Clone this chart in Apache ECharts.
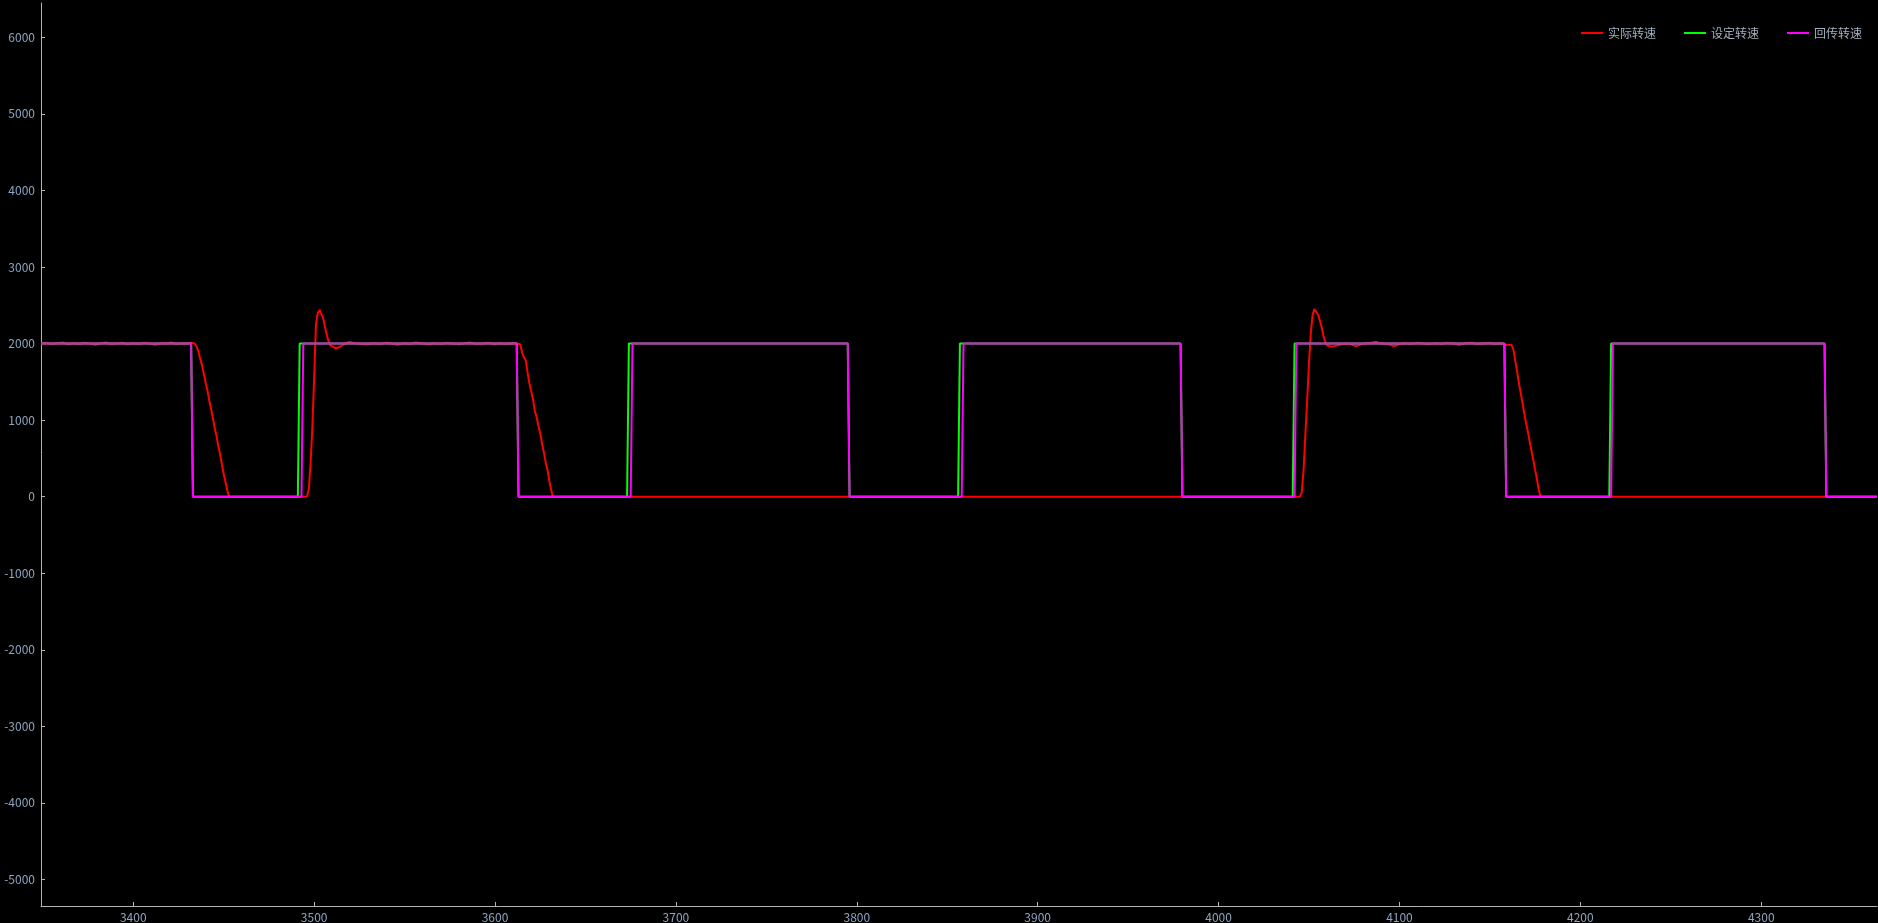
<!DOCTYPE html>
<html>
<head>
<meta charset="utf-8">
<title>转速曲线</title>
<script src="https://cdn.jsdelivr.net/npm/echarts@6/dist/echarts.min.js"></script>
<style>
  html, body { margin: 0; padding: 0; background: #000; }
  #speed_chart { width: 1878px; height: 923px; }
</style>
</head>
<body>
<div id="speed_chart"></div>
<script>
// legend names
var seriesNames = ['实际转速', '设定转速', '回传转速'];

// axis ticks
var xTicks = [3400, 3500, 3600, 3700, 3800, 3900, 4000, 4100, 4200, 4300];
var yTicks = [-5000, -4000, -3000, -2000, -1000, 0, 1000, 2000, 3000, 4000, 5000, 6000];

// actual speed [sample, rpm]
var actualSpeed = [
    [3349, 2000], [3352, 2010], [3355, 1995], [3358, 2005], [3361, 2015], [3364, 1990],
    [3367, 2005], [3370, 1995], [3373, 2010], [3376, 2000], [3379, 1985], [3382, 2005],
    [3385, 2015], [3388, 1995], [3391, 2000], [3394, 2010], [3397, 1990], [3400, 2005],
    [3403, 1995], [3406, 2010], [3409, 2000], [3412, 1985], [3415, 2005], [3418, 2000],
    [3421, 2015], [3424, 1995], [3427, 2005], [3430, 2000], [3432, 2010], [3434, 2000],
    [3435, 1960], [3436, 1900], [3437, 1800], [3438, 1720], [3439, 1610], [3440, 1490],
    [3441, 1390], [3442, 1260], [3443, 1150], [3444, 1030], [3445, 900], [3446, 800],
    [3447, 660], [3448, 560], [3449, 420], [3450, 300], [3451, 190], [3452, 80], [3453, 0],
    [3496, 0], [3497, 90], [3498, 420], [3499, 900], [3500, 1550], [3501, 2250],
    [3502, 2400], [3503, 2440], [3504, 2430], [3505, 2330], [3506, 2220], [3507, 2110],
    [3508, 2030], [3509, 1975], [3510, 1950], [3512, 1937], [3514, 1955], [3516, 1985],
    [3519, 2020], [3523, 2003], [3526, 1995], [3530, 1990], [3533, 2005], [3536, 1995],
    [3540, 2010], [3543, 2000], [3546, 1985], [3550, 2005], [3553, 1995], [3556, 2015],
    [3560, 2000], [3563, 1990], [3566, 2005], [3570, 1995], [3573, 2010], [3576, 2000],
    [3580, 1990], [3583, 2005], [3586, 2015], [3590, 1995], [3593, 2000], [3596, 2010],
    [3600, 1990], [3603, 2005], [3606, 1995], [3609, 2005], [3612, 2000], [3614, 1990],
    [3615, 1880], [3616, 1820], [3617, 1780], [3618, 1620], [3619, 1480], [3620, 1380],
    [3621, 1270], [3622, 1120], [3623, 1040], [3624, 920], [3625, 830], [3626, 690],
    [3627, 580], [3628, 450], [3629, 350], [3630, 210], [3631, 90], [3632, 0],
    [4045, 0], [4046, 60], [4047, 350], [4048, 820], [4049, 1270], [4050, 1760],
    [4051, 2140], [4052, 2380], [4053, 2450], [4054, 2430], [4055, 2380], [4056, 2300],
    [4057, 2210], [4058, 2100], [4059, 2020], [4060, 1975], [4061, 1950], [4063, 1960],
    [4064, 1967], [4067, 1984], [4070, 2000], [4073, 1990], [4076, 1967], [4079, 1995],
    [4082, 2005], [4085, 2015], [4087, 2023], [4090, 2000], [4094, 1990], [4097, 1967],
    [4100, 1995], [4103, 2005], [4106, 1995], [4110, 2010], [4113, 2000], [4116, 1990],
    [4120, 2005], [4123, 1995], [4126, 2010], [4130, 2000], [4133, 1985], [4136, 2005],
    [4140, 2010], [4143, 1995], [4146, 2000], [4150, 2010], [4153, 1995], [4156, 2005],
    [4159, 1985], [4162, 1980], [4163, 1920], [4164, 1780], [4165, 1640], [4166, 1490],
    [4167, 1360], [4168, 1230], [4169, 1090], [4170, 960], [4171, 850], [4172, 720],
    [4173, 600], [4174, 480], [4175, 350], [4176, 230], [4177, 90], [4178, 0],
    [4364, 0]
];

// set speed [sample, rpm]
var setSpeed = [
    [3349, 2000], [3432, 2000], [3433, 0], [3491, 0], [3492, 2000], [3612, 2000],
    [3613, 0], [3673, 0], [3674, 2000], [3795, 2000], [3796, 0], [3856, 0],
    [3857, 2000], [3979, 2000], [3980, 0], [4041, 0], [4042, 2000], [4158, 2000],
    [4159, 0], [4216, 0], [4217, 2000], [4335, 2000], [4336, 0], [4364, 0]
];

// returned speed [sample, rpm]
var returnSpeed = [
    [3349, 2000], [3432, 2000], [3433, 0], [3493, 0], [3494, 2000], [3612, 2000],
    [3613, 0], [3675, 0], [3676, 2000], [3795, 2000], [3796, 0], [3858, 0],
    [3859, 2000], [3979, 2000], [3980, 0], [4042, 0], [4043, 2000], [4158, 2000],
    [4159, 0], [4217, 0], [4218, 2000], [4335, 2000], [4336, 0], [4364, 0]
];

var lineColors = ['#ff0000', '#00ff00', '#ff00ff'];
var seriesData = [actualSpeed, setSpeed, returnSpeed];

var plainNumber = function(v) { return String(v); };

var speed_chart = echarts.init(document.getElementById('speed_chart'));

speed_chart.setOption({
    backgroundColor: '#000',
    animation: false,

    textStyle: {
        fontFamily: '"Noto Sans CJK SC", "Noto Sans", sans-serif',
        fontSize: 12
    },

    grid: {
        left: 41,
        right: 1,
        top: 3,
        bottom: 17,
        containLabel: false
    },

    legend: {
        data: seriesNames,
        icon: 'rect',
        right: 11,
        top: 22,
        itemWidth: 22,
        itemHeight: 2,
        itemGap: 28,
        textStyle: {
            color: '#a3aebd',
            fontSize: 12
        }
    },

    // Horizontal axis
    xAxis: {
        type: 'value',
        min: 3349,
        max: 4364,
        splitLine: { show: false },
        axisLine: {
            onZero: false,
            lineStyle: { color: '#b4b4b4', width: 1 }
        },
        axisTick: {
            inside: true,
            length: 4,
            customValues: xTicks,
            lineStyle: { color: '#b4b4b4' }
        },
        axisLabel: {
            color: '#8da4c2',
            margin: 5,
            fontSize: 12,
            customValues: xTicks,
            formatter: plainNumber
        }
    },

    // Vertical axis
    yAxis: {
        type: 'value',
        min: -5347,
        max: 6449,
        splitLine: { show: false },
        axisLine: {
            show: true,
            onZero: false,
            lineStyle: { color: '#b4b4b4', width: 1 }
        },
        axisTick: {
            show: true,
            inside: true,
            length: 4,
            customValues: yTicks,
            lineStyle: { color: '#b4b4b4' }
        },
        axisLabel: {
            color: '#8da4c2',
            margin: 6,
            fontSize: 12,
            customValues: yTicks,
            formatter: plainNumber
        }
    },

    series: seriesNames.map(function(name, i) {
        return {
            name: name,
            type: 'line',
            symbol: 'none',
            data: seriesData[i],
            color: lineColors[i],
            lineStyle: { width: 2, color: lineColors[i] }
        };
    })
});
</script>
</body>
</html>
